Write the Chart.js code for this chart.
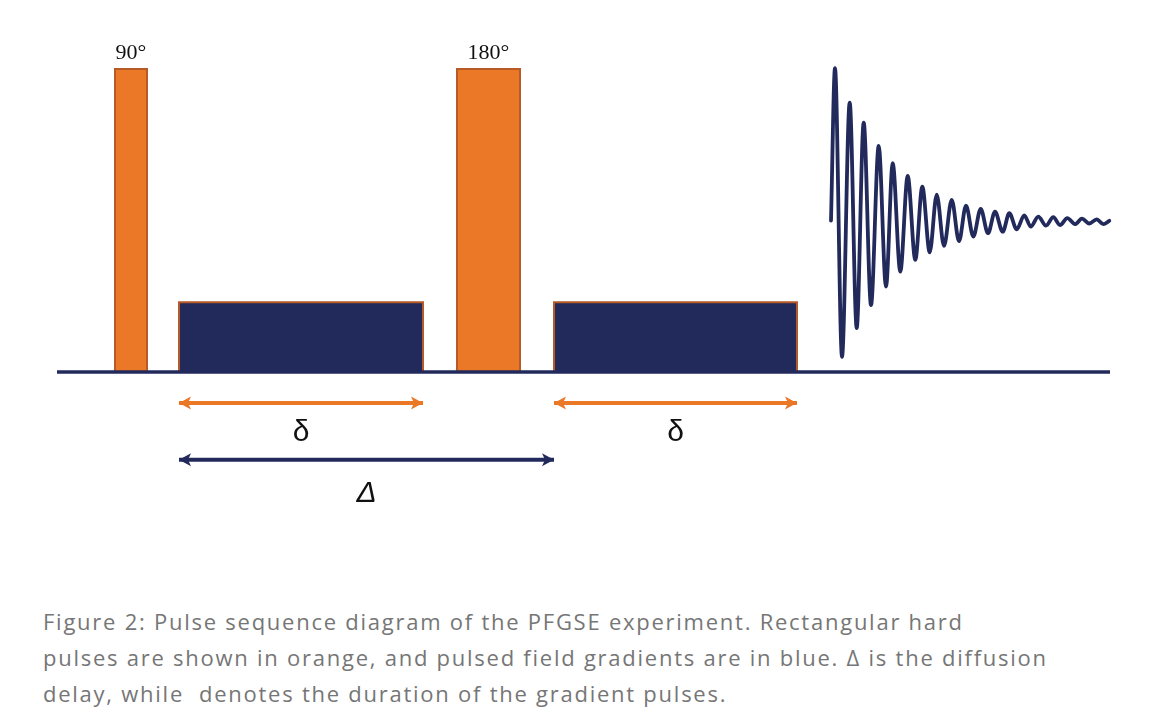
<!DOCTYPE html>
<html>
<head>
<meta charset="utf-8">
<script src="https://cdn.jsdelivr.net/npm/chart.js@4.4.1/dist/chart.umd.min.js"></script>
<style>
  html, body { margin: 0; padding: 0; background: #ffffff; }
  #wrap { position: absolute; left: 0; top: 0; width: 1154px; height: 580px; }
  #caption {
    position: absolute; left: 43px; top: 603px;
    font-family: "Open Sans", Lato, sans-serif; font-size: 22px; line-height: 36px;
    color: #767676; white-space: pre;
  }
  #caption div { white-space: pre; }
  #caption span { white-space: pre; }
</style>
</head>
<body>
<div id="wrap"><canvas id="c" width="1154" height="580"></canvas></div>
<div id="caption"><div><span>Figure 2: Pulse sequence diagram of the PFGSE experiment. Rectangular hard</span></div><div><span>pulses are shown in orange, and pulsed field gradients are in blue. Δ is the diffusion</span></div><div><span>delay, while  denotes the duration of the gradient pulses.</span></div></div>
<script>
// ---- data (time in arbitrary units, amplitude normalised to RF pulse = 1) ----
const baselineTime = [0, 105.3];
const rfPulseNames = ['90°', '180°'];
const rfPulseStart = [5.8, 40.0];
const rfPulseEnd   = [9.0, 46.3];
const rfPulseAmp   = [1.0, 1.0];
const gradStart = [12.2, 49.7];
const gradEnd   = [36.6, 74.0];
const gradAmp   = [0.23, 0.23];
const deltaSmallLabel = 'δ';
const deltaBigLabel = 'Δ';
const smallDeltaLevel = -0.102;
const bigDeltaLevel = -0.290;
const bigDeltaStart = 12.2;
const bigDeltaEnd = 49.7;
// FID extrema
const fidTime = [77.4, 77.8, 78.5, 79.27, 79.97, 80.67, 81.4, 82.17, 82.9, 83.57, 84.33, 85.07, 85.83,
  86.53, 87.27, 87.97, 88.7, 89.47, 90.2, 90.9, 91.63, 92.37, 93.1, 93.8, 94.57, 95.23, 95.97,
  96.73, 97.37, 98.13, 98.9, 99.63, 100.3, 101.03, 101.8, 102.5, 103.23, 103.97, 104.63, 105.23];
const fidSignal = [0.50, 1.003, 0.050, 0.889, 0.145, 0.823, 0.221, 0.746, 0.282, 0.689, 0.331, 0.647, 0.370,
  0.612, 0.395, 0.585, 0.416, 0.568, 0.432, 0.549, 0.447, 0.538, 0.458, 0.529, 0.463, 0.524, 0.471,
  0.517, 0.480, 0.513, 0.483, 0.511, 0.485, 0.508, 0.488, 0.506, 0.490, 0.504, 0.488, 0.499];
// caption line widths in the original (px), used to set letter spacing
const captionWidths = [934, 996, 680];

const NAVY = '#222a5c';
const ORANGE = '#ea7826';
const ORANGE_EDGE = '#b65a26';

(function () {
  const spans = document.querySelectorAll('#caption span');
  let sum = 0;
  spans.forEach((s, i) => {
    const w = s.getBoundingClientRect().width;
    sum += (captionWidths[i] - w) / s.textContent.length;
  });
  document.getElementById('caption').style.letterSpacing = (sum / spans.length).toFixed(2) + 'px';
})();

function rect(x0, x1, h) {
  return [{x: x0, y: 0}, {x: x0, y: h}, {x: x1, y: h}, {x: x1, y: 0}];
}

const datasets = [];
datasets.push({ data: baselineTime.map(t => ({x: t, y: 0})), borderColor: NAVY, borderWidth: 3.5,
  pointRadius: 0, showLine: true, fill: false });
function arrow(x0, x1, y, color) {
  return { data: [{x: x0, y: y}, {x: x1, y: y}], borderColor: color, borderWidth: 4, pointRadius: 0,
    showLine: true, fill: false, isArrow: true };
}
for (let i = 0; i < gradStart.length; i++) datasets.push(arrow(gradStart[i], gradEnd[i], smallDeltaLevel, ORANGE));
datasets.push(arrow(bigDeltaStart, bigDeltaEnd, bigDeltaLevel, NAVY));
datasets.push({ data: fidTime.map((t, i) => ({x: t, y: fidSignal[i]})), borderColor: NAVY, borderWidth: 3.8,
  pointRadius: 0, showLine: true, fill: false, cubicInterpolationMode: 'monotone',
  borderJoinStyle: 'round', borderCapStyle: 'round' });
for (let i = 0; i < rfPulseStart.length; i++) {
  datasets.push({ data: rect(rfPulseStart[i], rfPulseEnd[i], rfPulseAmp[i]), borderColor: ORANGE_EDGE,
    borderWidth: 2, backgroundColor: ORANGE, pointRadius: 0, showLine: true, fill: 'origin', tension: 0 });
}
for (let i = 0; i < gradStart.length; i++) {
  datasets.push({ data: rect(gradStart[i], gradEnd[i], gradAmp[i]), borderColor: ORANGE_EDGE,
    borderWidth: 2, backgroundColor: NAVY, pointRadius: 0, showLine: true, fill: 'origin', tension: 0 });
}

const annotate = {
  id: 'annotate',
  afterDatasetsDraw(chart) {
    const ctx = chart.ctx, xs = chart.scales.x, ys = chart.scales.y;
    chart.data.datasets.forEach((ds, i) => {
      if (!ds.isArrow) return;
      const meta = chart.getDatasetMeta(i);
      const a = meta.data[0], b = meta.data[meta.data.length - 1];
      const head = (tipX, tipY, dir) => {
        ctx.beginPath();
        ctx.moveTo(tipX, tipY);
        ctx.lineTo(tipX + dir * 12, tipY - 6.5);
        ctx.lineTo(tipX + dir * 9, tipY);
        ctx.lineTo(tipX + dir * 12, tipY + 6.5);
        ctx.closePath();
        ctx.fillStyle = ds.borderColor;
        ctx.fill();
      };
      head(a.x, a.y, 1);
      head(b.x, b.y, -1);
    });
    ctx.save();
    ctx.fillStyle = '#111111';
    ctx.textAlign = 'center';
    ctx.textBaseline = 'alphabetic';
    ctx.font = '22px "Liberation Serif", "DejaVu Serif", serif';
    rfPulseNames.forEach((name, i) => {
      const cx = xs.getPixelForValue((rfPulseStart[i] + rfPulseEnd[i]) / 2);
      const top = ys.getPixelForValue(rfPulseAmp[i]);
      ctx.fillText(name, cx, top - 10);
    });
    ctx.font = '30px "Liberation Sans", Arial, sans-serif';
    ctx.textBaseline = 'middle';
    for (let i = 0; i < gradStart.length; i++) {
      const cx = xs.getPixelForValue((gradStart[i] + gradEnd[i]) / 2);
      ctx.fillText(deltaSmallLabel, cx, ys.getPixelForValue(smallDeltaLevel) + 30);
    }
    ctx.font = 'italic 30px "Liberation Sans", Arial, sans-serif';
    ctx.fillText(deltaBigLabel, xs.getPixelForValue((bigDeltaStart + bigDeltaEnd) / 2),
      ys.getPixelForValue(bigDeltaLevel) + 34);
    ctx.restore();
  }
};

new Chart(document.getElementById('c'), {
  type: 'scatter',
  data: { datasets },
  options: {
    responsive: false,
    animation: false,
    events: [],
    layout: { padding: 0 },
    plugins: { legend: { display: false }, tooltip: { enabled: false }, title: { display: false } },
    scales: {
      x: { type: 'linear', min: -5.7, max: 109.7, display: false },
      y: { type: 'linear', min: -0.6865, max: 1.2277, display: false }
    }
  },
  plugins: [annotate]
});
</script>
</body>
</html>
